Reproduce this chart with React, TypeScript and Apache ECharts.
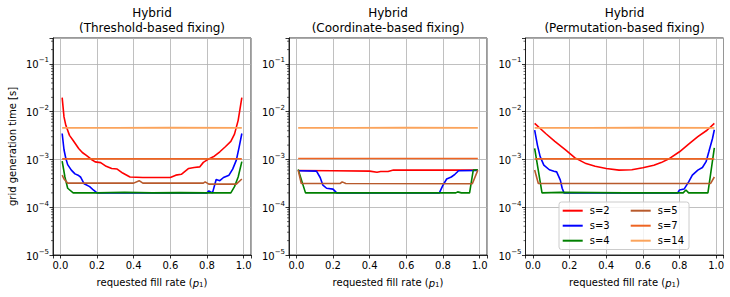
import React, { useEffect, useRef } from "react";
import * as echarts from "echarts";

const FONT = "DejaVu Sans";

const SERIES_NAMES = ["s=2", "s=3", "s=4", "s=5", "s=7", "s=14"];
const SERIES_COLORS = ["#ff0000", "#0000ff", "#008000", "#b85a2c", "#ee6422", "#fba45c"];
const PANEL_TITLES = [
  "Hybrid\n(Threshold-based fixing)",
  "Hybrid\n(Coordinate-based fixing)",
  "Hybrid\n(Permutation-based fixing)",
];
const X_TICKS = [0.0, 0.2, 0.4, 0.6, 0.8, 1.0];
const Y_MINOR_TICKS = [
  2e-5, 3e-5, 4e-5, 5e-5, 6e-5, 7e-5, 8e-5, 9e-5,
  2e-4, 3e-4, 4e-4, 5e-4, 6e-4, 7e-4, 8e-4, 9e-4,
  2e-3, 3e-3, 4e-3, 5e-3, 6e-3, 7e-3, 8e-3, 9e-3,
  2e-2, 3e-2, 4e-2, 5e-2, 6e-2, 7e-2, 8e-2, 9e-2,
  2e-1, 3e-1,
];

// Threshold-based fixing
const thr_s2 = [[0.01, 1.98e-2], [0.02, 7.8e-3], [0.03, 5.2e-3], [0.05, 3.2e-3], [0.07, 2.5e-3], [0.1, 1.7e-3], [0.12, 1.4e-3], [0.14, 1.23e-3], [0.17, 1.0e-3], [0.19, 8.9e-4], [0.22, 8.6e-4], [0.25, 7.2e-4], [0.28, 6.5e-4], [0.31, 6.3e-4], [0.34, 5.2e-4], [0.38, 4.3e-4], [0.45, 4.2e-4], [0.52, 4.2e-4], [0.6, 4.2e-4], [0.63, 4.7e-4], [0.66, 4.9e-4], [0.7, 6.5e-4], [0.73, 6.8e-4], [0.76, 7.0e-4], [0.78, 8.7e-4], [0.81, 1.03e-3], [0.84, 1.17e-3], [0.87, 1.45e-3], [0.9, 1.85e-3], [0.93, 2.4e-3], [0.95, 3.4e-3], [0.97, 6.6e-3], [0.99, 1.98e-2]];
const thr_s3 = [[0.01, 3.5e-3], [0.02, 1.6e-3], [0.03, 1.05e-3], [0.04, 7.8e-4], [0.06, 6.0e-4], [0.08, 5.0e-4], [0.1, 4.6e-4], [0.11, 4.3e-4], [0.13, 3.1e-4], [0.16, 2.7e-4], [0.18, 2.3e-4], [0.2, 2.0e-4], [0.4, 2.0e-4], [0.6, 2.0e-4], [0.8, 2.0e-4], [0.81, 2.2e-4], [0.83, 2.0e-4], [0.85, 3.8e-4], [0.87, 3.6e-4], [0.89, 4.2e-4], [0.92, 4.7e-4], [0.94, 6.3e-4], [0.96, 9.7e-4], [0.975, 1.8e-3], [0.99, 3.5e-3]];
const thr_s4 = [[0.01, 9.2e-4], [0.025, 4.3e-4], [0.04, 2.5e-4], [0.07, 2.0e-4], [0.2, 2.0e-4], [0.35, 2.05e-4], [0.5, 2.0e-4], [0.65, 2.02e-4], [0.8, 2.0e-4], [0.93, 2.0e-4], [0.95, 2.7e-4], [0.97, 4.3e-4], [0.99, 9.0e-4]];
const thr_s5 = [[0.01, 4.7e-4], [0.02, 3.9e-4], [0.04, 3.2e-4], [0.2, 3.2e-4], [0.4, 3.2e-4], [0.43, 3.6e-4], [0.45, 3.2e-4], [0.6, 3.2e-4], [0.78, 3.2e-4], [0.79, 3.4e-4], [0.81, 3.05e-4], [0.96, 3.05e-4], [0.99, 3.9e-4]];
const thr_s7 = [[0.01, 1.03e-3], [0.3, 1.03e-3], [0.6, 1.04e-3], [0.99, 1.03e-3]];
const thr_s14 = [[0.01, 4.6e-3], [0.3, 4.6e-3], [0.6, 4.65e-3], [0.99, 4.6e-3]];

// Coordinate-based fixing
const crd_s2 = [[0.01, 5.9e-4], [0.2, 5.8e-4], [0.4, 5.7e-4], [0.44, 5.4e-4], [0.46, 5.6e-4], [0.5, 5.6e-4], [0.53, 6.0e-4], [0.7, 6.0e-4], [0.99, 6.0e-4]];
const crd_s3 = [[0.01, 5.8e-4], [0.11, 5.7e-4], [0.13, 4.2e-4], [0.145, 2.9e-4], [0.165, 2.5e-4], [0.2, 2.4e-4], [0.22, 2.0e-4], [0.5, 2.0e-4], [0.78, 2.0e-4], [0.8, 2.9e-4], [0.82, 3.9e-4], [0.845, 4.3e-4], [0.865, 4.9e-4], [0.885, 5.8e-4], [0.99, 5.9e-4]];
const crd_s4 = [[0.01, 6.2e-4], [0.05, 2.0e-4], [0.5, 2.0e-4], [0.87, 2.0e-4], [0.88, 2.1e-4], [0.9, 2.0e-4], [0.945, 2.0e-4], [0.965, 6.0e-4], [0.99, 6.1e-4]];
const crd_s5 = [[0.01, 6.0e-4], [0.027, 3.15e-4], [0.24, 3.15e-4], [0.25, 3.4e-4], [0.27, 3.15e-4], [0.96, 3.1e-4], [0.99, 6.0e-4]];
const crd_s7 = [[0.01, 1.05e-3], [0.3, 1.05e-3], [0.6, 1.05e-3], [0.99, 1.05e-3]];
const crd_s14 = [[0.01, 4.6e-3], [0.3, 4.6e-3], [0.6, 4.65e-3], [0.99, 4.6e-3]];

// Permutation-based fixing
const prm_s2 = [[0.01, 5.7e-3], [0.07, 3.5e-3], [0.12, 2.4e-3], [0.18, 1.57e-3], [0.23, 1.08e-3], [0.29, 8.2e-4], [0.34, 7.2e-4], [0.4, 6.5e-4], [0.47, 6.0e-4], [0.54, 6.1e-4], [0.6, 6.7e-4], [0.66, 7.6e-4], [0.7, 8.6e-4], [0.74, 1.02e-3], [0.8, 1.45e-3], [0.85, 2.1e-3], [0.9, 3.0e-3], [0.95, 4.1e-3], [0.99, 5.7e-3]];
const prm_s3 = [[0.01, 4.1e-3], [0.025, 2.0e-3], [0.04, 1.15e-3], [0.06, 7.6e-4], [0.09, 6.1e-4], [0.115, 5.7e-4], [0.13, 5.5e-4], [0.15, 3.7e-4], [0.16, 2.5e-4], [0.17, 2.0e-4], [0.5, 2.0e-4], [0.79, 2.0e-4], [0.8, 2.3e-4], [0.825, 2.4e-4], [0.85, 3.4e-4], [0.87, 4.7e-4], [0.9, 6.0e-4], [0.925, 6.8e-4], [0.945, 9.0e-4], [0.96, 1.45e-3], [0.98, 2.75e-3], [0.99, 4.2e-3]];
const prm_s4 = [[0.01, 1.7e-3], [0.05, 2.0e-4], [0.15, 2.05e-4], [0.5, 2.0e-4], [0.82, 2.0e-4], [0.835, 2.3e-4], [0.85, 2.0e-4], [0.955, 2.0e-4], [0.99, 1.75e-3]];
const prm_s5 = [[0.01, 6.0e-4], [0.03, 3.15e-4], [0.5, 3.15e-4], [0.97, 3.15e-4], [0.99, 4.3e-4]];
const prm_s7 = [[0.01, 1.03e-3], [0.3, 1.03e-3], [0.6, 1.04e-3], [0.99, 1.03e-3]];
const prm_s14 = [[0.01, 4.6e-3], [0.3, 4.6e-3], [0.6, 4.65e-3], [0.99, 4.6e-3]];

const PANEL_DATA = [
  [thr_s2, thr_s3, thr_s4, thr_s5, thr_s7, thr_s14],
  [crd_s2, crd_s3, crd_s4, crd_s5, crd_s7, crd_s14],
  [prm_s2, prm_s3, prm_s4, prm_s5, prm_s7, prm_s14],
];

const X_MIN = -0.04;
const X_MAX = 1.04;
const Y_MIN = 1e-5;
const Y_MAX = 0.35;

const GRID_LEFTS = [53, 289, 525.5];
const GRID_TOP = 38;
const GRID_W = 198;
const GRID_H = 217;

function yLabel(v: number) {
  const e = Math.log10(v);
  const r = Math.round(e);
  if (Math.abs(e - r) > 1e-6) return "";
  const s = r < 0 ? "\u2212" + String(-r) : String(r);
  return "{b|10}{s|" + s + "}";
}

function xLabel(v: number) {
  const isTick = X_TICKS.some((t) => Math.abs(t - v) < 1e-6);
  return isTick ? Math.abs(v).toFixed(1) : "";
}

export default function App() {
  const ref = useRef<HTMLDivElement>(null);
  useEffect(() => {
    if (!ref.current) return;
    const chart = echarts.init(ref.current, null, { renderer: "svg" });

    const grids: any[] = [];
    const xAxes: any[] = [];
    const yAxes: any[] = [];
    const series: any[] = [];
    const titles: any[] = [];

    for (let i = 0; i < 3; i++) {
      grids.push({
        left: GRID_LEFTS[i],
        top: GRID_TOP,
        width: GRID_W,
        height: GRID_H,
        show: true,
        borderColor: "#000",
        borderWidth: 0.8,
        backgroundColor: "transparent",
        containLabel: false,
        outerBoundsMode: "none",
      });
      titles.push({
        text: PANEL_TITLES[i],
        left: GRID_LEFTS[i] + GRID_W / 2,
        top: 6,
        padding: 0,
        textAlign: "center",
        textStyle: {
          fontFamily: FONT,
          fontSize: 12,
          fontWeight: "normal",
          color: "#000",
          lineHeight: 14.5,
        },
      });
      xAxes.push({
        type: "value",
        gridIndex: i,
        min: X_MIN,
        max: X_MAX,
        splitNumber: 5,
        axisLine: { show: true, onZero: false, lineStyle: { color: "#000", width: 0.8 } },
        axisTick: { show: true, length: 3.5, lineStyle: { color: "#000", width: 0.8 } },
        axisLabel: {
          formatter: xLabel,
          fontFamily: FONT,
          fontSize: 10,
          color: "#000",
          margin: 5,
        },
        splitLine: { show: true, lineStyle: { color: "#b0b0b0", width: 0.8 } },
        name: "requested fill rate ({i|p}{sub|1})",
        nameLocation: "middle",
        nameGap: 21,
        nameTextStyle: {
          fontFamily: FONT,
          fontSize: 10,
          color: "#000",
          lineHeight: 12,
          rich: {
            i: { fontFamily: FONT, fontSize: 10, fontStyle: "italic", color: "#000", lineHeight: 12, verticalAlign: "bottom" },
            sub: { fontFamily: FONT, fontSize: 7, color: "#000", lineHeight: 8, padding: [3, 0, 0, 0], verticalAlign: "bottom" },
          },
        },
      });
      yAxes.push({
        type: "log",
        logBase: 10,
        gridIndex: i,
        min: Y_MIN,
        max: Y_MAX,
        axisLine: { show: true, onZero: false, lineStyle: { color: "#000", width: 0.8 } },
        axisTick: { show: true, length: 3.5, lineStyle: { color: "#000", width: 0.8 } },
        axisLabel: {
          formatter: yLabel,
          fontFamily: FONT,
          color: "#000",
          margin: 4,
          rich: {
            b: { fontFamily: FONT, fontSize: 10, color: "#000", lineHeight: 12, verticalAlign: "bottom" },
            s: { fontFamily: FONT, fontSize: 7, color: "#000", lineHeight: 8, padding: [0, 0, 6, 0], verticalAlign: "bottom" },
          },
        },
        splitLine: { show: true, lineStyle: { color: "#b0b0b0", width: 0.8 } },
        name: i === 0 ? "grid generation time [s]" : "",
        nameLocation: "middle",
        nameGap: 36,
        nameTextStyle: { fontFamily: FONT, fontSize: 10, color: "#000" },
      });

      PANEL_DATA[i].forEach((d, k) => {
        series.push({
          type: "line",
          name: SERIES_NAMES[k],
          xAxisIndex: i,
          yAxisIndex: i,
          data: d,
          showSymbol: false,
          symbol: "none",
          color: SERIES_COLORS[k],
          itemStyle: { color: SERIES_COLORS[k] },
          lineStyle: { color: SERIES_COLORS[k], width: 1.6 },
          silent: true,
          z: 2,
        });
      });

      series.push({
        type: "custom",
        name: "minor-ticks-" + i,
        xAxisIndex: i,
        yAxisIndex: i,
        silent: true,
        clip: false,
        data: Y_MINOR_TICKS.map((v) => [X_MIN, v]),
        encode: { x: 0, y: 1 },
        renderItem: (params: any, api: any) => {
          const p = api.coord([api.value(0), api.value(1)]);
          return {
            type: "line",
            shape: { x1: p[0] - 2, y1: p[1], x2: p[0], y2: p[1] },
            style: { stroke: "#000", lineWidth: 0.6 },
          };
        },
        z: 3,
      });
    }

    const legendCommon = {
      orient: "vertical",
      top: 205.2,
      padding: 0,
      itemWidth: 20,
      itemHeight: 2,
      itemGap: 4,
      icon: "rect",
      selectedMode: false,
      textStyle: {
        fontFamily: FONT,
        fontSize: 10,
        color: "#000",
        lineHeight: 11,
        padding: [0, 0, 0, 2],
      },
      z: 5,
    };

    chart.setOption({
      animation: false,
      backgroundColor: "#fff",
      title: titles,
      grid: grids,
      xAxis: xAxes,
      yAxis: yAxes,
      legend: [
        { ...legendCommon, left: 562.7, data: ["s=2", "s=3", "s=4"] },
        { ...legendCommon, left: 630.7, data: ["s=5", "s=7", "s=14"] },
      ],
      graphic: [
        {
          type: "rect",
          z: 4,
          shape: { x: 559, y: 202, width: 130, height: 47.5, r: 2.5 },
          style: { fill: "rgba(255,255,255,0.8)", stroke: "#cccccc", lineWidth: 1 },
          silent: true,
        },
      ],
      series,
    });

    return () => chart.dispose();
  }, []);

  return (
    <div
      ref={ref}
      style={{ position: "fixed", left: 0, top: 0, width: 730, height: 297 }}
    />
  );
}
